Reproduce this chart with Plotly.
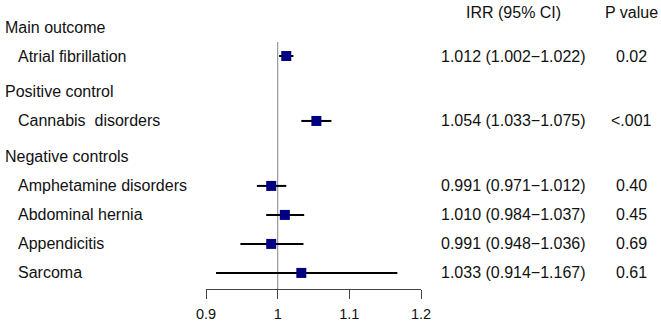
import plotly.graph_objects as go

# ---- data ----
groups = ["Main outcome", "Positive control", "Negative controls"]
outcomes = ["Atrial fibrillation", "Cannabis\u00a0 disorders", "Amphetamine disorders",
            "Abdominal hernia", "Appendicitis", "Sarcoma"]
group_of = [0, 1, 2, 2, 2, 2]
irr = [1.012, 1.054, 0.991, 1.010, 0.991, 1.033]
ci_low = [1.002, 1.033, 0.971, 0.984, 0.948, 0.914]
ci_high = [1.022, 1.075, 1.012, 1.037, 1.036, 1.167]
p_values = ["0.02", "<.001", "0.40", "0.45", "0.69", "0.61"]
tick_vals = [0.9, 1, 1.1, 1.2]
tick_text = ["0.9", "1", "1.1", "1.2"]
col_headers = ["IRR (95% CI)", "P value"]

# ---- layout helpers ----
W, H = 661, 323
GAP = 0.24
FONT = "Liberation Sans, Arial, sans-serif"
TXT = "#111111"

# build row positions
header_y = {}
item_y = []
i = 0
for g, name in enumerate(groups):
    header_y[g] = i + GAP * g
    i += 1
    for k, go_ in enumerate(group_of):
        if go_ == g:
            item_y.append((k, i + GAP * g))
            i += 1
item_y = [y for k, y in sorted(item_y)]

fig = go.Figure()
fig.add_trace(go.Scatter(
    x=irr, y=item_y, mode="markers",
    marker=dict(symbol="square", size=10, color="#000080",
                line=dict(width=0)),
    error_x=dict(type="data", symmetric=False,
                 array=[h - m for h, m in zip(ci_high, irr)],
                 arrayminus=[m - l for m, l in zip(irr, ci_low)],
                 width=0, thickness=2, color="black"),
    showlegend=False, hoverinfo="skip"))

ann = []
for g, name in enumerate(groups):
    ann.append(dict(x=3 / W, y=header_y[g], xref="paper", yref="y", text=name,
                    showarrow=False, xanchor="left", yanchor="middle",
                    font=dict(size=16, family=FONT, color=TXT)))
for k, lab in enumerate(outcomes):
    y = item_y[k]
    ann.append(dict(x=16 / W, y=y, xref="paper", yref="y", text=lab,
                    showarrow=False, xanchor="left", yanchor="middle",
                    font=dict(size=16, family=FONT, color=TXT)))
    ci_txt = f"{irr[k]:.3f} ({ci_low[k]:.3f}\u2212{ci_high[k]:.3f})"
    ann.append(dict(x=513 / W, y=y, xref="paper", yref="y", text=ci_txt,
                    showarrow=False, xanchor="center", yanchor="middle",
                    font=dict(size=16, family=FONT, color=TXT)))
    ann.append(dict(x=631 / W, y=y, xref="paper", yref="y", text=p_values[k].replace("<", "&lt;"),
                    showarrow=False, xanchor="center", yanchor="middle",
                    font=dict(size=16, family=FONT, color=TXT)))
hdr_y = -15 / 29
for txt, cx in zip(col_headers, [513, 631]):
    ann.append(dict(x=cx / W, y=hdr_y, xref="paper", yref="y", text=txt,
                    showarrow=False, xanchor="center", yanchor="middle",
                    font=dict(size=16, family=FONT, color=TXT)))

axis_px = 289
y_top = -27 / 29
y_bot = (axis_px - 27) / 29

fig.add_shape(type="line", xref="x", yref="y", x0=1, x1=1, y0=0.52, y1=y_bot,
              line=dict(color="#999999", width=1.2), layer="below")

fig.update_layout(
    template="none",
    width=W, height=H, margin=dict(l=0, r=0, t=0, b=0, pad=0, autoexpand=False),
    paper_bgcolor="white", plot_bgcolor="white",
    annotations=ann,
    xaxis=dict(range=[0.9, 1.2], domain=[206 / W, 421 / W], tickvals=tick_vals,
               ticktext=tick_text, ticks="outside", ticklen=9, tickwidth=1.3,
               tickcolor="#444444", showline=True, linecolor="#444444", linewidth=1.3,
               showgrid=False, zeroline=False, automargin=False, ticklabelstandoff=2,
               tickfont=dict(size=14.5, family=FONT, color=TXT), anchor="y"),
    yaxis=dict(range=[y_bot, y_top], domain=[(H - axis_px) / H, 1], automargin=False,
               visible=False, showgrid=False, zeroline=False),
)

fig.write_html("out.html")
